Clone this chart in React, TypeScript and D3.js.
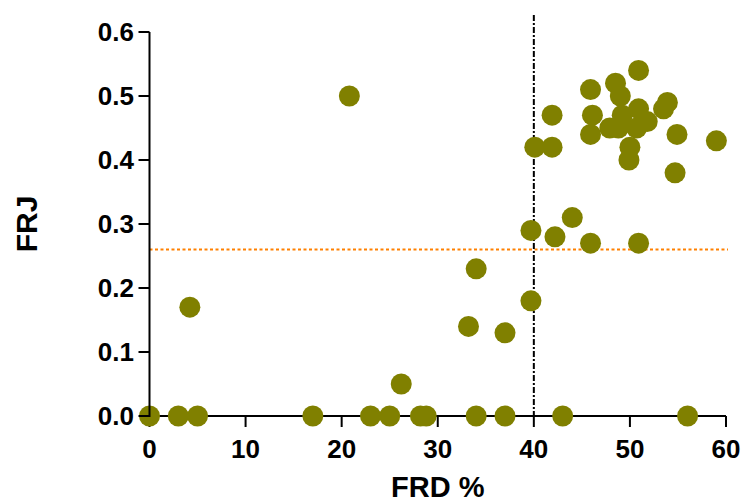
import React from "react";
import * as d3 from "d3";

const frd: number[] = [
  0, 3, 5, 17, 23, 25, 28.2, 28.8, 34, 37, 43, 56,
  4.2, 20.8, 26.2, 33.2, 34, 37, 39.7, 39.7, 40.1, 41.9, 41.9, 42.2, 44,
  45.9, 45.9, 45.9, 46.1, 47.9, 48.5, 48.8, 49, 49.2, 49.9, 50, 50.7,
  50.9, 50.9, 50.9, 51.8, 53.5, 53.9, 54.7, 54.9, 59,
];
const frj: number[] = [
  0, 0, 0, 0, 0, 0, 0, 0, 0, 0, 0, 0,
  0.17, 0.5, 0.05, 0.14, 0.23, 0.13, 0.18, 0.29, 0.42, 0.42, 0.47, 0.28, 0.31,
  0.27, 0.44, 0.51, 0.47, 0.45, 0.52, 0.45, 0.5, 0.47, 0.4, 0.42, 0.45,
  0.48, 0.54, 0.27, 0.46, 0.48, 0.49, 0.38, 0.44, 0.43,
];
const xTicks: number[] = [0, 10, 20, 30, 40, 50, 60];
const yTicks: number[] = [0, 0.1, 0.2, 0.3, 0.4, 0.5, 0.6];
const xCut = 40;
const yCut = 0.26;
const xLabel = "FRD %";
const yLabel = "FRJ";

const W = 742;
const H = 502;
const FONT = "'Liberation Sans', Arial, Helvetica, sans-serif";

export default function App() {
  const x = d3.scaleLinear().domain([0, 60]).range([149.5, 726]);
  const y = d3.scaleLinear().domain([0, 0.6]).range([416, 32]);
  const x0 = x(0);
  const y0 = y(0);
  const pts = frd.map((v, i) => ({ x: v, y: frj[i] }));

  return (
    <div style={{ position: "absolute", left: 0, top: 0 }}>
      <svg width={W} height={H} style={{ display: "block", background: "#fff" }}>
        <line
          x1={x(0)}
          x2={x(60) + 2}
          y1={y(yCut)}
          y2={y(yCut)}
          stroke="#FF8000"
          strokeWidth={2}
          strokeDasharray="3,2.5"
        />
        <line x1={x0} x2={x(60)} y1={y0} y2={y0} stroke="#000" strokeWidth={2} />
        {xTicks.map((t) => (
          <g key={"xt" + t}>
            <line x1={x(t)} x2={x(t)} y1={y0} y2={y0 + 11} stroke="#000" strokeWidth={2} />
            <text
              x={x(t)}
              y={458}
              textAnchor="middle"
              fontFamily={FONT}
              fontWeight="bold"
              fontSize={26}
              fill="#000"
            >
              {t}
            </text>
          </g>
        ))}
        <line
          x1={x(xCut)}
          x2={x(xCut)}
          y1={15}
          y2={y0}
          stroke="#000"
          strokeWidth={2}
          strokeDasharray="6,2,2,2"
        />
        {pts.map((p, i) => (
          <circle key={i} cx={x(p.x)} cy={y(p.y)} r={10.5} fill="#808000" />
        ))}
        <line x1={x0} x2={x0} y1={y(0.6)} y2={y0 + 1} stroke="#000" strokeWidth={2} />
        {yTicks.map((t) => (
          <g key={"yt" + t}>
            <line x1={x0 - 11} x2={x0} y1={y(t)} y2={y(t)} stroke="#000" strokeWidth={2} />
            <text
              x={134}
              y={y(t)}
              dy="0.36em"
              textAnchor="end"
              fontFamily={FONT}
              fontWeight="bold"
              fontSize={26}
              fill="#000"
            >
              {d3.format(".1f")(t)}
            </text>
          </g>
        ))}
        <text
          x={(x(0) + x(60)) / 2}
          y={497}
          textAnchor="middle"
          fontFamily={FONT}
          fontWeight="bold"
          fontSize={29}
          fill="#000"
        >
          {xLabel}
        </text>
        <text
          transform={`translate(37, ${(y(0) + y(0.6)) / 2}) rotate(-90)`}
          textAnchor="middle"
          fontFamily={FONT}
          fontWeight="bold"
          fontSize={30}
          fill="#000"
        >
          {yLabel}
        </text>
      </svg>
    </div>
  );
}
